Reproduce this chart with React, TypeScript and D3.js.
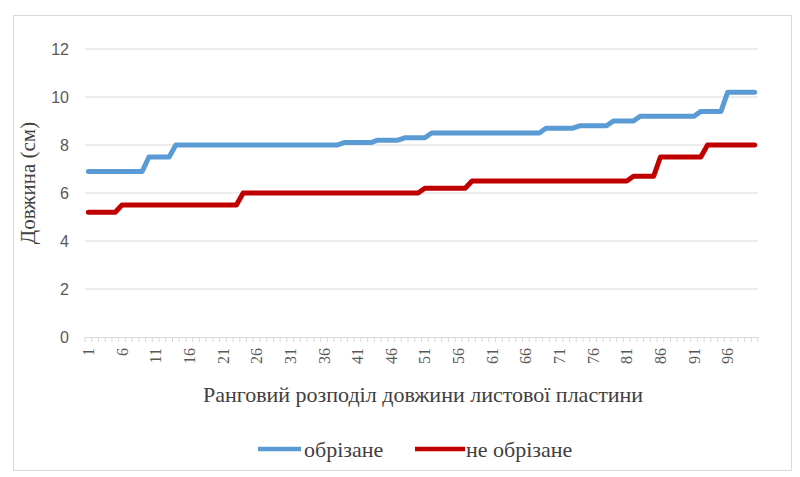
import React, { useEffect, useRef } from 'react';
import * as d3 from 'd3';

// ранг 1..100
const ranks: number[] = d3.range(1, 101);

// обрізане (см), read step by step from the picture
const cutSteps: [number, number][] = [
  [9, 6.9], [4, 7.5], [25, 8.0], [5, 8.1], [4, 8.2], [4, 8.3],
  [17, 8.5], [5, 8.7], [5, 8.8], [4, 9.0], [9, 9.2], [4, 9.4], [5, 10.2],
];
// не обрізане (см)
const uncutSteps: [number, number][] = [
  [5, 5.2], [18, 5.5], [27, 6.0], [7, 6.2], [24, 6.5], [4, 6.7], [7, 7.5], [8, 8.0],
];

const expand = (steps: [number, number][]) => steps.flatMap(([n, v]) => Array(n).fill(v) as number[]);
const cutValues = expand(cutSteps);
const uncutValues = expand(uncutSteps);

const yTicks = [0, 2, 4, 6, 8, 10, 12];
const xTickLabels = ranks.filter(r => (r - 1) % 5 === 0);

const seriesNames = ['обрізане', 'не обрізане'];
const colors = ['#5b9bd5', '#c00000'];

export default function App() {
  const svgRef = useRef<SVGSVGElement>(null);

  useEffect(() => {
    if (!svgRef.current) return;
    const width = 800;
    const height = 477;
    const plot = { left: 85, right: 758, top: 49, bottom: 337 };
    const serif = 'Liberation Serif, Times New Roman, serif';

    const svg = d3.select(svgRef.current);
    svg.selectAll('*').remove();

    svg.append('rect')
      .attr('width', width).attr('height', height).attr('fill', '#fff');
    svg.append('rect')
      .attr('x', 13.5).attr('y', 15.5).attr('width', 778).attr('height', 455)
      .attr('fill', 'none').attr('stroke', '#d9d9d9');

    const x = d3.scalePoint<number>()
      .domain(ranks)
      .range([plot.left, plot.right])
      .padding(0.5);
    const step = x.step();

    const y = d3.scaleLinear()
      .domain([0, 12])
      .range([plot.bottom, plot.top]);

    // gridlines
    svg.append('g')
      .selectAll('line')
      .data(yTicks.filter(t => t > 0))
      .join('line')
      .attr('x1', plot.left).attr('x2', plot.right)
      .attr('y1', d => y(d)).attr('y2', d => y(d))
      .attr('stroke', '#d9d9d9').attr('stroke-width', 1);

    // y labels
    svg.append('g')
      .selectAll('text')
      .data(yTicks)
      .join('text')
      .attr('x', 69)
      .attr('y', d => y(d))
      .attr('dy', '0.35em')
      .attr('text-anchor', 'end')
      .attr('font-family', 'Liberation Sans, Arial, sans-serif')
      .attr('font-size', '16px')
      .attr('fill', '#595959')
      .text(d => d);

    // x axis line + category tick marks
    svg.append('line')
      .attr('x1', plot.left).attr('x2', plot.right)
      .attr('y1', plot.bottom + 0.5).attr('y2', plot.bottom + 0.5)
      .attr('stroke', '#d9d9d9');
    svg.append('g')
      .selectAll('line')
      .data(d3.range(0, ranks.length + 1))
      .join('line')
      .attr('x1', i => plot.left + i * step).attr('x2', i => plot.left + i * step)
      .attr('y1', plot.bottom).attr('y2', plot.bottom + 5)
      .attr('stroke', '#d9d9d9');

    // x labels
    svg.append('g')
      .selectAll('text')
      .data(xTickLabels)
      .join('text')
      .attr('transform', d => `translate(${x(d)},348) rotate(-90)`)
      .attr('dy', '0.35em')
      .attr('text-anchor', 'end')
      .attr('font-family', serif)
      .attr('font-size', '16px')
      .attr('fill', '#595959')
      .text(d => d);

    // lines
    const line = d3.line<number>()
      .x((_, i) => x(ranks[i]) || 0)
      .y(d => y(d));

    [cutValues, uncutValues].forEach((vals, k) => {
      svg.append('path')
        .datum(vals)
        .attr('d', line)
        .attr('fill', 'none')
        .attr('stroke', colors[k])
        .attr('stroke-width', 5)
        .attr('stroke-linejoin', 'round')
        .attr('stroke-linecap', 'round');
    });

    // axis titles
    svg.append('text')
      .attr('x', 423)
      .attr('y', 402)
      .attr('text-anchor', 'middle')
      .attr('font-family', serif)
      .attr('font-size', '22px')
      .attr('fill', '#404040')
      .text('Ранговий розподіл довжини листової пластини');

    svg.append('text')
      .attr('transform', 'translate(35,183) rotate(-90)')
      .attr('text-anchor', 'middle')
      .attr('font-family', serif)
      .attr('font-size', '21px')
      .attr('fill', '#404040')
      .text('Довжина (см)');

    // legend
    const legendItems = [
      { x0: 258, x1: 301, tx: 304 },
      { x0: 415, x1: 465, tx: 466 },
    ];
    legendItems.forEach((it, k) => {
      svg.append('line')
        .attr('x1', it.x0).attr('x2', it.x1)
        .attr('y1', 449).attr('y2', 449)
        .attr('stroke', colors[k]).attr('stroke-width', 4.5);
      svg.append('text')
        .attr('x', it.tx).attr('y', 449)
        .attr('dy', '0.35em')
        .attr('font-family', serif)
        .attr('font-size', '22px')
        .attr('fill', '#404040')
        .text(seriesNames[k]);
    });
  }, []);

  return (
    <svg
      ref={svgRef}
      width={800}
      height={477}
      viewBox="0 0 800 477"
      style={{ position: 'absolute', left: 0, top: 0 }}
    />
  );
}
